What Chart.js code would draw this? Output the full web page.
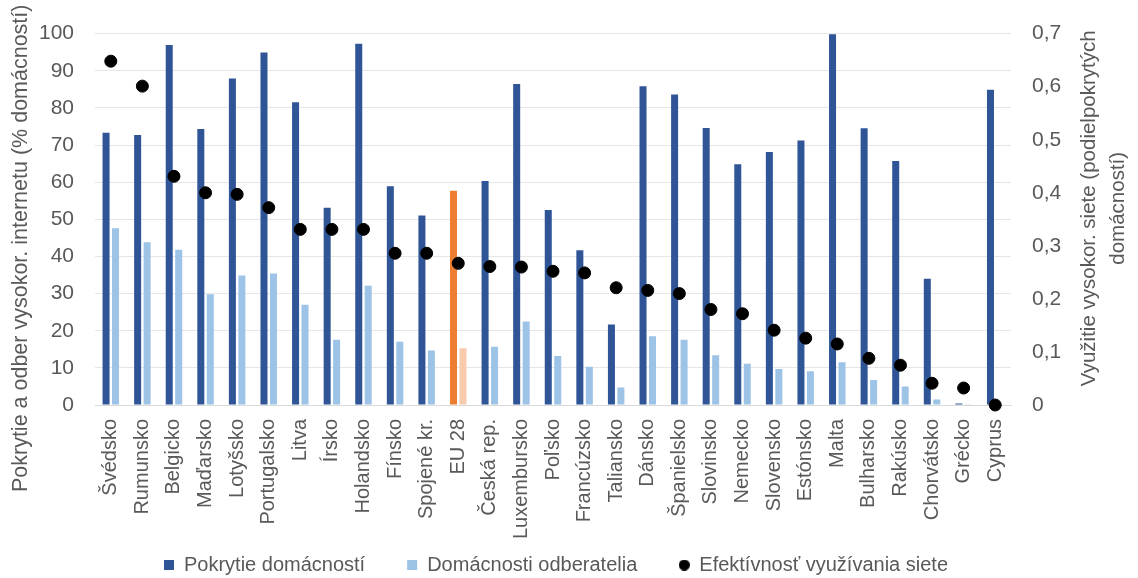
<!DOCTYPE html>
<html>
<head>
<meta charset="utf-8">
<script src="https://cdn.jsdelivr.net/npm/chart.js@4.4.1/dist/chart.umd.min.js"></script>
<style>
  html, body { margin: 0; padding: 0; background: #ffffff; }
  #wrap { width: 1138px; height: 578px; position: relative; }
</style>
</head>
<body>
<div id="wrap"><canvas id="c" width="1138" height="578"></canvas></div>
<script>
// Countries (EU 28 average highlighted)
const categories = [
  'Švédsko', 'Rumunsko', 'Belgicko', 'Maďarsko', 'Lotyšsko', 'Portugalsko', 'Litva',
  'Írsko', 'Holandsko', 'Fínsko', 'Spojené kr.', 'EU 28', 'Česká rep.', 'Luxembursko',
  'Poľsko', 'Francúzsko', 'Taliansko', 'Dánsko', 'Španielsko', 'Slovinsko', 'Nemecko',
  'Slovensko', 'Estónsko', 'Malta', 'Bulharsko', 'Rakúsko', 'Chorvátsko', 'Grécko', 'Cyprus'
];

// Households covered by high-speed internet (% of households)
const coverage = [
  73.3, 72.7, 96.9, 74.3, 87.9, 94.9, 81.5, 53.1, 97.3, 58.9, 51.0, 57.7, 60.3, 86.4,
  52.5, 41.7, 21.7, 85.8, 83.6, 74.6, 64.8, 68.1, 71.2, 99.8, 74.5, 65.7, 34.0, 0.4, 84.9
];

// Households subscribing (% of households)
const subscribers = [
  47.6, 43.8, 41.8, 29.8, 34.9, 35.4, 27.0, 17.6, 32.1, 17.0, 14.7, 15.3, 15.7, 22.5,
  13.2, 10.3, 4.7, 18.5, 17.6, 13.4, 11.1, 9.7, 9.1, 11.5, 6.7, 5.0, 1.5, 0.2, 0.0
];

// Network take-up efficiency (share of covered households)
const efficiency = [
  0.648, 0.601, 0.431, 0.400, 0.397, 0.372, 0.331, 0.331, 0.331, 0.286, 0.286, 0.267,
  0.261, 0.260, 0.252, 0.249, 0.221, 0.216, 0.210, 0.180, 0.172, 0.141, 0.126, 0.115,
  0.088, 0.075, 0.041, 0.032, 0.000
];

const seriesNames = ['Pokrytie domácností', 'Domácnosti odberatelia', 'Efektívnosť využívania siete'];
const leftTitle = 'Pokrytie a odber vysokor. internetu (% domácností)';
const rightTitleLines = ['Využitie vysokor. siete (podielpokrytých', 'domácností)'];
const rightTickLabels = ['0', '0,1', '0,2', '0,3', '0,4', '0,5', '0,6', '0,7'];

const highlight = 'EU 28';
const DARK = '#2f5597', LIGHT = '#9dc3e6', ORANGE = '#ed7d31', PEACH = '#f8cbad';
const TEXT = '#595959';
const FONT = '"Liberation Sans", Arial, sans-serif';

const darkColors = categories.map(c => c === highlight ? ORANGE : DARK);
const lightColors = categories.map(c => c === highlight ? PEACH : LIGHT);

// Small round legend marker for the dot series
const legendDot = document.createElement('canvas');
legendDot.width = 11;
legendDot.height = 11;
(() => {
  const g = legendDot.getContext('2d');
  g.fillStyle = '#000000';
  g.beginPath();
  g.arc(5.5, 5.5, 5.5, 0, Math.PI * 2);
  g.fill();
})();

// Rotated axis titles drawn bottom-to-top on both sides
const axisTitles = {
  id: 'axisTitles',
  afterDraw(chart) {
    const { ctx, chartArea } = chart;
    ctx.save();
    ctx.fillStyle = TEXT;
    ctx.textAlign = 'center';
    ctx.textBaseline = 'middle';
    const put = (text, x, y, size) => {
      ctx.save();
      ctx.font = size + 'px ' + FONT;
      ctx.translate(x, y);
      ctx.rotate(-Math.PI / 2);
      ctx.fillText(text, 0, 0);
      ctx.restore();
    };
    const midY = (chartArea.top + chartArea.bottom) / 2;
    put(leftTitle, chartArea.left - 74, midY + 29, 21.5);
    put(rightTitleLines[0], chartArea.right + 78, midY - 11, 20.5);
    put(rightTitleLines[1], chartArea.right + 107, midY - 11, 20.5);
    ctx.restore();
  }
};

new Chart(document.getElementById('c'), {
  data: {
    labels: categories,
    datasets: [
      {
        type: 'line',
        label: seriesNames[2],
        data: efficiency,
        yAxisID: 'y1',
        showLine: false,
        pointRadius: 6,
        pointHoverRadius: 6,
        pointBackgroundColor: '#000000',
        pointBorderColor: '#000000',
        backgroundColor: '#000000',
        borderColor: '#000000',
        clip: false,
        order: 0
      },
      {
        type: 'bar',
        label: seriesNames[0],
        data: coverage,
        yAxisID: 'y',
        backgroundColor: darkColors,
        categoryPercentage: 0.6,
        barPercentage: 0.74,
        order: 1
      },
      {
        type: 'bar',
        label: seriesNames[1],
        data: subscribers,
        yAxisID: 'y',
        backgroundColor: lightColors,
        categoryPercentage: 0.6,
        barPercentage: 0.74,
        order: 1
      }
    ]
  },
  options: {
    responsive: false,
    animation: false,
    devicePixelRatio: 1,
    layout: { padding: { left: 0, right: 26, top: 22, bottom: -7 } },
    plugins: {
      tooltip: { enabled: false },
      legend: {
        position: 'bottom',
        labels: {
          font: { size: 20, family: FONT },
          color: TEXT,
          usePointStyle: true,
          boxWidth: 10,
          boxHeight: 10,
          padding: 42,
          sort: (a, b) => seriesNames.indexOf(a.text) - seriesNames.indexOf(b.text),
          generateLabels(chart) {
            const items = Chart.defaults.plugins.legend.labels.generateLabels(chart);
            return items.map(it => {
              const ds = chart.data.datasets[it.datasetIndex];
              const isBar = ds.type === 'bar';
              const col = it.text === seriesNames[0] ? DARK : it.text === seriesNames[1] ? LIGHT : '#000000';
              return Object.assign(it, {
                pointStyle: isBar ? 'rect' : legendDot,
                fillStyle: col,
                strokeStyle: col,
                lineWidth: 0
              });
            });
          }
        }
      }
    },
    scales: {
      x: {
        grid: { display: false, drawTicks: false },
        border: { display: true, color: '#d9d9d9' },
        ticks: {
          color: TEXT,
          font: { size: 20, family: FONT },
          minRotation: 90,
          maxRotation: 90,
          autoSkip: false,
          padding: 14
        },
        afterFit(scale) {
          scale.height = 108;
          // let the long country names run below the axis box
          scale._computeLabelArea = () => null;
        }
      },
      y: {
        position: 'left',
        min: 0,
        max: 100,
        ticks: {
          stepSize: 10,
          color: TEXT,
          font: { size: 21, family: FONT },
          padding: 21
        },
        grid: { color: '#e6e6e6', drawTicks: false },
        border: { display: false },
        afterFit(scale) { scale.width = 95; }
      },
      y1: {
        position: 'right',
        min: 0,
        max: 0.7,
        ticks: {
          stepSize: 0.1,
          color: TEXT,
          font: { size: 21, family: FONT },
          padding: 21,
          callback: (v, i) => rightTickLabels[i]
        },
        grid: { display: false, drawTicks: false },
        border: { display: false },
        afterFit(scale) { scale.width = 101; }
      }
    }
  },
  plugins: [axisTitles]
});
</script>
</body>
</html>
